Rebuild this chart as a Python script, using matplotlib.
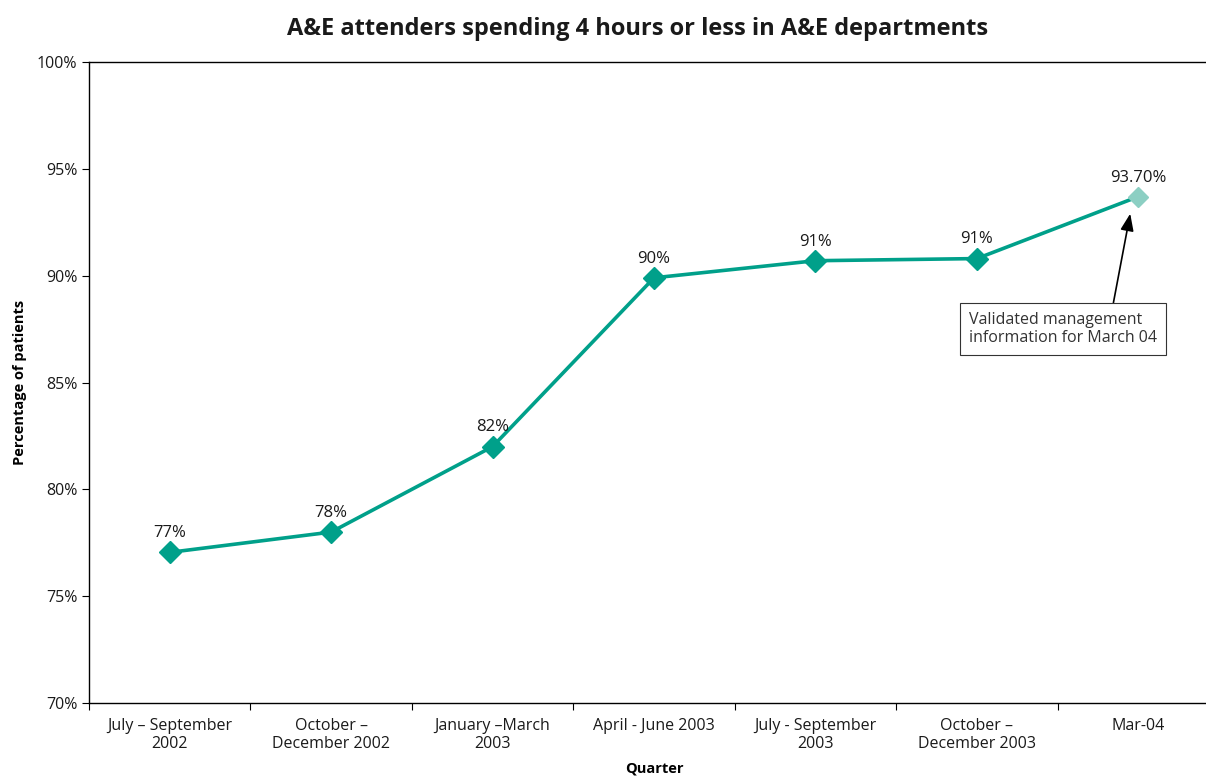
import matplotlib.pyplot as plt
from matplotlib.ticker import FixedLocator, NullFormatter, FuncFormatter

quarters = ["July \u2013 September\n2002", "October \u2013\nDecember 2002", "January \u2013March\n2003",
            "April - June 2003", "July - September\n2003", "October \u2013\nDecember 2003", "Mar-04"]
pct_within_4h = [77.05, 78.0, 82.0, 89.9, 90.7, 90.8, 93.7]
point_labels = ["77%", "78%", "82%", "90%", "91%", "91%", "93.70%"]

teal = "#00a08a"
teal_light = "#8ccfc3"

plt.rcParams['font.family'] = ['Open Sans', 'DejaVu Sans']

fig = plt.figure(figsize=(12.06, 7.78), dpi=100)
ax = fig.add_axes([0.0738, 0.0964, 1.0108 - 0.0738, 0.9203 - 0.0964])

xs = [i + 0.5 for i in range(len(quarters))]
ax.plot(xs, pct_within_4h, color=teal, lw=2.6, zorder=2)
ax.plot(xs[:-1], pct_within_4h[:-1], 'D', color=teal, ms=11, zorder=3)
ax.plot(xs[-1:], pct_within_4h[-1:], 'D', color=teal_light, ms=10, zorder=3)

for x, y, lab in zip(xs, pct_within_4h, point_labels):
    ax.annotate(lab, (x, y), xytext=(0, 8), textcoords='offset points',
                ha='center', va='bottom', fontsize=12, color='#1a1a1a')

# note box for the last (validated) point
ax.annotate("Validated management\ninformation for March 04",
            xy=(xs[-1] - 0.05, pct_within_4h[-1] - 0.8), xytext=(5.45, 87.5),
            ha='left', va='center', multialignment='left', fontsize=11.5, color='#333333',
            bbox=dict(boxstyle='square,pad=0.55', fc='white', ec='#333333', lw=0.8),
            arrowprops=dict(arrowstyle='-|>,head_length=0.9,head_width=0.35', color='black', lw=1.2,
                            shrinkA=0, shrinkB=0,
                            relpos=(0.76, 1.0)))

ax.set_xlim(0, len(quarters))
ax.set_ylim(70, 100)
ax.xaxis.set_major_locator(FixedLocator(range(len(quarters) + 1)))
ax.xaxis.set_major_formatter(NullFormatter())
ax.xaxis.set_minor_locator(FixedLocator(xs))
ax.set_xticklabels(quarters, minor=True, fontsize=11.5, color='#1a1a1a', linespacing=1.15)
ax.tick_params(axis='x', which='minor', length=0, pad=11)
ax.tick_params(axis='x', which='major', length=5, width=0.8)
ax.set_yticks(range(70, 101, 5))
ax.yaxis.set_major_formatter(FuncFormatter(lambda v, p: f"{v:.0f}%"))
ax.tick_params(axis='y', length=5, width=0.8, labelsize=11.5, labelcolor='#1a1a1a')

for side in ['left', 'bottom', 'top']:
    ax.spines[side].set_linewidth(1.0)
ax.spines['right'].set_visible(False)

ax.set_xlabel("Quarter", fontsize=10.5, fontweight='bold', labelpad=7)
ax.set_ylabel("Percentage of patients", fontsize=10.5, fontweight='bold', labelpad=7)
fig.text(0.529, 0.963, "A&E attenders spending 4 hours or less in A&E departments",
         ha='center', va='center', fontsize=17, fontweight='bold', color='#1a1a1a')

fig.savefig("out.png", dpi=100)
